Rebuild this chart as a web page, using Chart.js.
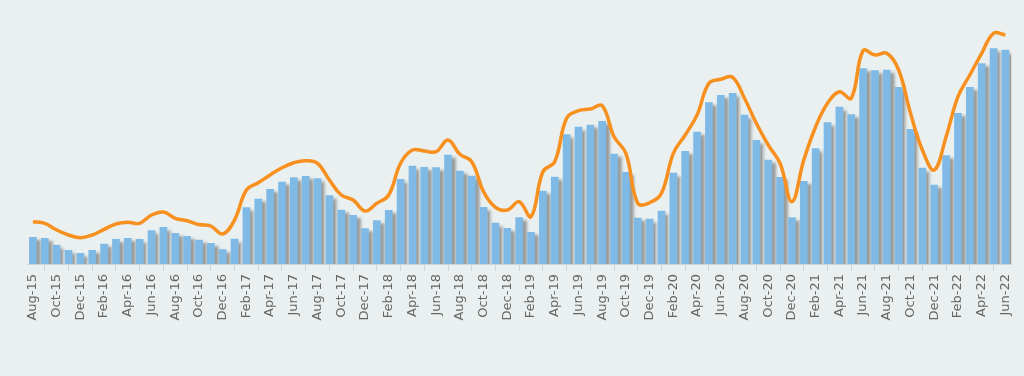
<!DOCTYPE html>
<html>
<head>
<meta charset="utf-8">
<script src="https://cdn.jsdelivr.net/npm/chart.js@4/dist/chart.umd.min.js"></script>
<style>
  html, body { margin: 0; padding: 0; background: #eaf0f0; }
  #wrap { width: 1024px; height: 376px; position: relative; }
</style>
</head>
<body>
<div id="wrap"><canvas id="chart"></canvas></div>
<script>
// months Aug-15 .. Jun-22
const months = [
  "Aug-15","Sep-15","Oct-15","Nov-15","Dec-15",
  "Jan-16","Feb-16","Mar-16","Apr-16","May-16","Jun-16","Jul-16","Aug-16","Sep-16","Oct-16","Nov-16","Dec-16",
  "Jan-17","Feb-17","Mar-17","Apr-17","May-17","Jun-17","Jul-17","Aug-17","Sep-17","Oct-17","Nov-17","Dec-17",
  "Jan-18","Feb-18","Mar-18","Apr-18","May-18","Jun-18","Jul-18","Aug-18","Sep-18","Oct-18","Nov-18","Dec-18",
  "Jan-19","Feb-19","Mar-19","Apr-19","May-19","Jun-19","Jul-19","Aug-19","Sep-19","Oct-19","Nov-19","Dec-19",
  "Jan-20","Feb-20","Mar-20","Apr-20","May-20","Jun-20","Jul-20","Aug-20","Sep-20","Oct-20","Nov-20","Dec-20",
  "Jan-21","Feb-21","Mar-21","Apr-21","May-21","Jun-21","Jul-21","Aug-21","Sep-21","Oct-21","Nov-21","Dec-21",
  "Jan-22","Feb-22","Mar-22","Apr-22","May-22","Jun-22"
];

// monthly bars (no axis in the picture, arbitrary units)
const barValues = [
  26.7, 25.7, 19, 13.7, 10.7,
  13.7, 20, 24.7, 25.7, 24.7, 33.3, 36.7, 30.7, 27.7, 24, 20.7, 14.3,
  25, 56.3, 65, 74.7, 82, 86.3, 87.7, 85.3, 68.3, 54, 48.7, 35.5,
  43.3, 53.7, 84.7, 98, 96.7, 96.3, 109, 93, 88, 56.7, 41, 35.7,
  46.3, 31.7, 73, 87, 129.3, 137, 139, 142.7, 110, 91.7, 46, 45,
  53, 91, 112.7, 132, 161.3, 168.7, 170.7, 149, 123.7, 104, 86.7, 46.3,
  82.7, 115.3, 141.3, 157, 149.3, 195.3, 193.3, 194, 176.7, 134.7, 96, 79,
  108.3, 150.7, 176.7, 200.3, 215.3, 214
];

// smoothed orange line
const lineValues = [
  42.3, 40.7, 34, 29, 26.3,
  29, 34.7, 40, 41.7, 40.7, 49, 52, 45.7, 43.3, 39.5, 38, 30,
  44, 74, 81.3, 89, 96.3, 101.3, 103.3, 100.7, 84, 69, 64, 53,
  60.7, 69, 100.7, 114, 113, 112.3, 124, 109.7, 102.3, 72.3, 56.7, 54,
  62.3, 47.3, 92.3, 102.3, 145.7, 153.3, 155, 158.3, 127.3, 110.7, 60.7, 61.3,
  70.7, 110.7, 129, 149, 180.7, 184.7, 186.7, 165.7, 140.7, 119, 100.7, 62.3,
  104, 137.3, 160.7, 172.3, 165.7, 213.3, 209, 210.7, 194, 150.7, 114, 94,
  127.3, 167.3, 189, 210.7, 230.7, 229
];

// grey shadow to the right of each bar
const barShadow = {
  id: 'barShadow',
  beforeDatasetDraw(chart, args) {
    if (args.meta.type !== 'bar') return;
    const ctx = chart.ctx;
    ctx.save();
    ctx.shadowColor = 'rgba(100,100,100,0.6)';
    ctx.shadowOffsetX = 4;
    ctx.shadowOffsetY = 3;
    ctx.shadowBlur = 3;
  },
  afterDatasetDraw(chart, args) {
    if (args.meta.type !== 'bar') return;
    chart.ctx.restore();
  }
};

new Chart(document.getElementById('chart'), {
  data: {
    labels: months,
    datasets: [
      {
        type: 'line',
        data: lineValues,
        borderColor: '#f7901e',
        borderWidth: 3.5,
        pointRadius: 0,
        tension: 0.4,
        fill: false,
        order: 0
      },
      {
        type: 'bar',
        data: barValues,
        backgroundColor: '#7fbae6',
        barThickness: 7,
        order: 1
      }
    ]
  },
  options: {
    responsive: true,
    maintainAspectRatio: false,
    animation: false,
    layout: { padding: { left: 27, right: 1, top: 0, bottom: 0 } },
    plugins: { legend: { display: false }, tooltip: { enabled: false } },
    scales: {
      x: {
        offset: true,
        grid: { offset: true, drawOnChartArea: false, tickLength: 7, color: '#cfd4d4' },
        border: { color: '#cfd4d4' },
        ticks: {
          autoSkip: false,
          minRotation: 90,
          maxRotation: 90,
          padding: 3,
          color: '#666',
          font: { family: 'DejaVu Sans', size: 13 },
          callback: (v, i) => (i % 2 === 0 ? months[i] : null)
        },
        afterFit: s => { s.height = 112; }
      },
      y: {
        display: false,
        min: 0,
        max: 264
      }
    }
  },
  plugins: [barShadow]
});
</script>
</body>
</html>
